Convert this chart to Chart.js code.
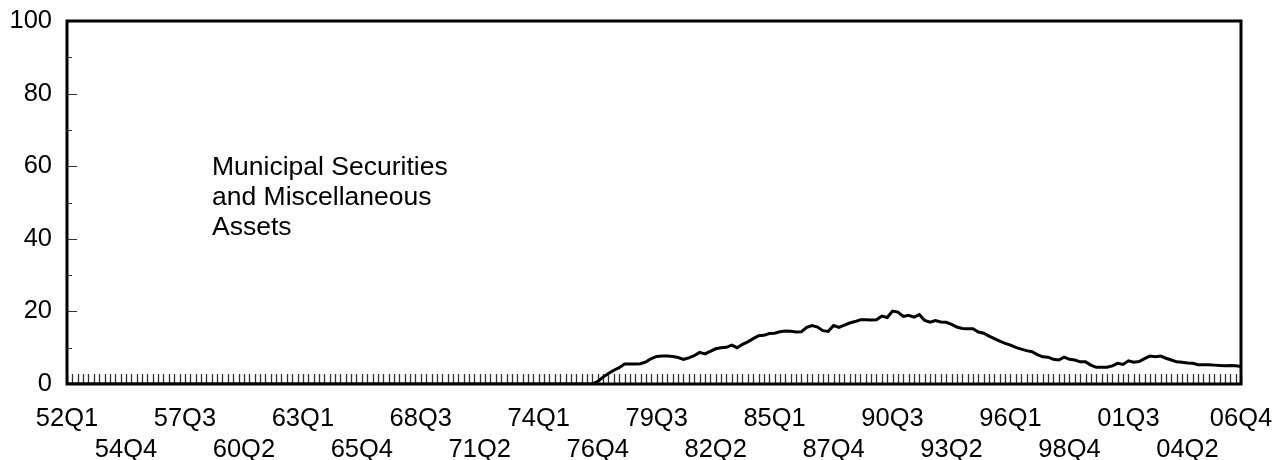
<!DOCTYPE html>
<html>
<head>
<meta charset="utf-8">
<script src="https://cdn.jsdelivr.net/npm/chart.js@4"></script>
<style>
html,body{margin:0;padding:0;background:#fff;}
#caja{position:relative;width:1280px;height:460px;}
</style>
</head>
<body>
<div id="caja"><canvas id="grafico"></canvas></div>
<script>

// trimestres 52Q1 ... 06Q4
const trimestres = [];
for(let a=52;a<=106;a++){
  for(let q=1;q<=4;q++){
    trimestres.push(String(a%100).padStart(2,"0")+"Q"+q);
  }
}

// 52Q1 - 76Q3 : sin valor (cero)
const valoresAntes = [
0,0,0,0,0,0,0,0,0,0,0,0,0,0,0,0,0,0,0,0,
0,0,0,0,0,0,0,0,0,0,0,0,0,0,0,0,0,0,0,0,
0,0,0,0,0,0,0,0,0,0,0,0,0,0,0,0,0,0,0,0,
0,0,0,0,0,0,0,0,0,0,0,0,0,0,0,0,0,0,0,0,
0,0,0,0,0,0,0,0,0,0,0,0,0,0,0,0,0,0,0
];

// 76Q4 - 06Q4
const valoresDespues = [
0.7,
1.9, 2.9, 3.8, 4.5, 5.5, 5.5, 5.5, 5.6, 6.1, 7.0,
7.6, 7.7, 7.7, 7.6, 7.3, 6.8, 7.2, 7.8, 8.7, 8.3,
9.0, 9.7, 10.0, 10.1, 10.7, 10.0, 10.9, 11.6, 12.5, 13.3,
13.4, 13.9, 14.0, 14.4, 14.6, 14.5, 14.3, 14.4, 15.6, 16.1,
15.7, 14.7, 14.5, 16.1, 15.6, 16.2, 16.8, 17.2, 17.7, 17.7,
17.6, 17.7, 18.7, 18.3, 20.1, 19.8, 18.6, 18.9, 18.4, 19.1,
17.5, 17.0, 17.5, 17.1, 17.0, 16.4, 15.7, 15.3, 15.2, 15.2,
14.3, 14.0, 13.2, 12.5, 11.8, 11.2, 10.7, 10.1, 9.6, 9.2,
8.9, 8.1, 7.5, 7.4, 6.8, 6.6, 7.4, 6.8, 6.6, 6.1,
6.1, 5.2, 4.6, 4.6, 4.6, 5.0, 5.7, 5.4, 6.4, 6.0,
6.2, 7.0, 7.7, 7.5, 7.7, 7.1, 6.6, 6.1, 6.0, 5.8,
5.7, 5.3, 5.3, 5.3, 5.2, 5.1, 5.0, 5.1, 5.0, 4.8
];

const valores = valoresAntes.concat(valoresDespues);

const marcasY = [0,20,40,60,80,100];
const marcasYmenores = [10,30,50,70,90];
const nota = ["Municipal Securities","and Miscellaneous","Assets"];

const fuente = "'Liberation Sans', Arial, sans-serif";

// marcas hacia adentro, marco y texto
const decoracion = {
  id:"decoracion",
  beforeDatasetsDraw(chart){
    const c = chart.ctx;
    const a = chart.chartArea;
    const x = chart.scales.x;
    const y = chart.scales.y;
    c.save();
    c.strokeStyle = "#333";
    c.lineWidth = 1.3;
    c.beginPath();
    for(let i=0;i<trimestres.length;i++){
      const px = Math.round(x.getPixelForValue(i))+0.5;
      c.moveTo(px,a.bottom);
      c.lineTo(px,a.bottom-10);
    }
    c.stroke();
    c.strokeStyle = "#333";
    c.lineWidth = 1;
    c.beginPath();
    marcasY.forEach(v=>{
      const py = Math.round(y.getPixelForValue(v))+0.5;
      c.moveTo(a.left,py); c.lineTo(a.left+10,py);
    });
    marcasYmenores.forEach(v=>{
      const py = Math.round(y.getPixelForValue(v))+0.5;
      c.moveTo(a.left,py); c.lineTo(a.left+5,py);
    });
    c.stroke();
    c.restore();
  },
  afterDatasetsDraw(chart){
    const c = chart.ctx;
    const a = chart.chartArea;
    c.save();
    c.strokeStyle = "#000";
    c.lineWidth = 3;
    c.strokeRect(a.left,a.top,a.right-a.left,a.bottom-a.top);
    c.fillStyle = "#000";
    c.font = "26.5px "+fuente;
    c.textBaseline = "alphabetic";
    nota.forEach((t,k)=>{
      c.fillText(t,212,175+k*30);
    });
    c.restore();
  }
};

const ctx = document.getElementById("grafico");

let grafico = new Chart(ctx,{
  type:"line",
  data:{
    labels:trimestres,
    datasets:[{
      data:valores,
      borderColor:"#000",
      borderWidth:3,
      pointRadius:0,
      tension:0,
      fill:false
    }]
  },
  options:{
    responsive:true,
    maintainAspectRatio:false,
    animation:false,
    layout:{padding:{top:21,right:39,left:0,bottom:0}},
    plugins:{legend:{display:false},tooltip:{enabled:false}},
    scales:{
      x:{
        offset:false,
        grid:{display:false,drawTicks:false},
        border:{display:false},
        afterFit(s){
          s.height = 76;
          s.paddingLeft = 0;
          s.paddingRight = 0;
        },
        ticks:{
          autoSkip:false,
          maxRotation:0,
          minRotation:0,
          padding:19,
          color:"#000",
          font:{family:fuente,size:25.5,lineHeight:1.22},
          callback(v,i){
            if(i===trimestres.length-1) return [trimestres[i]];
            if(i%11!==0) return "";
            const k = i/11;
            return k%2===0 ? [trimestres[i]] : ["",trimestres[i]];
          }
        }
      },
      y:{
        min:0,
        max:100,
        grid:{display:false,drawTicks:false},
        border:{display:false},
        afterFit(s){
          s.width = 67;
          s.paddingTop = 0;
          s.paddingBottom = 0;
        },
        ticks:{
          stepSize:20,
          padding:15,
          color:"#000",
          font:{family:fuente,size:25.5}
        }
      }
    }
  },
  plugins:[decoracion]
});

</script>
</body>
</html>
